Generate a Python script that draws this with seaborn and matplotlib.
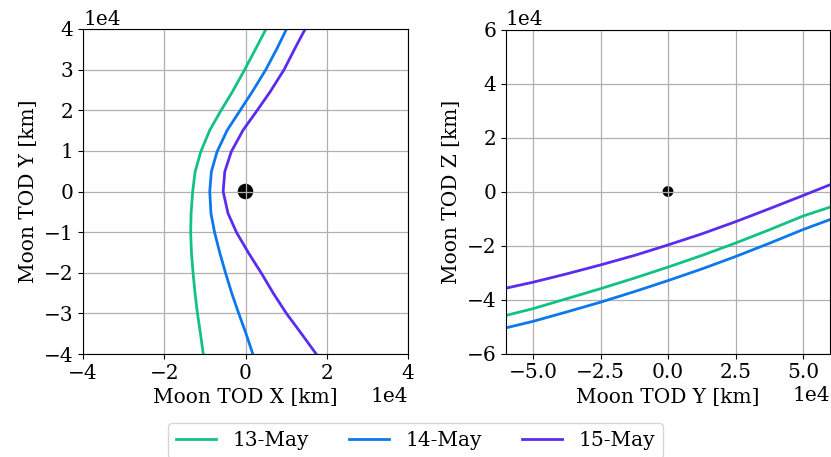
import numpy as np
import pandas as pd
import matplotlib
matplotlib.use("Agg")
import matplotlib.pyplot as plt
from matplotlib.patches import Circle
from matplotlib.lines import Line2D
import seaborn as sns

# ---------------- data (km) ----------------
dates = ["13-May", "14-May", "15-May"]
colors = ["#12c283", "#0b78ee", "#5b2cee"]
moon_radius = 1737.4

# Left panel: Moon TOD X vs Y
left_y = [40000, 35300, 30000, 24600, 20000, 15100, 9800, 4900, 0,
          -5400, -10100, -15200, -20100, -25300, -30200, -34900, -40000]
left_x_13 = [5050, 2600, -200, -3200, -6000, -8800, -11000, -12400, -13000,
             -13400, -13500, -13300, -12900, -12400, -11800, -11100, -10400]
left_x_14 = [10100, 7800, 5000, 1700, -1300, -4500, -7000, -8400, -8800,
             -8500, -7600, -6300, -4900, -3300, -1600, 100, 1800]
left_x_15 = [14700, 12200, 9500, 6100, 2900, -600, -3500, -5100, -5500,
             -4300, -2200, 800, 3900, 7000, 10200, 13700, 17400]

# Right panel: Moon TOD Y vs Z
right_y = [-60000, -50000, -37500, -25000, -12500, 0, 12500, 25000, 37500, 50000, 60000]
right_z_13 = [-45900, -43400, -39700, -36000, -32100, -28000, -23700, -19100, -14200, -9100, -5800]
right_z_14 = [-50500, -48100, -44600, -41000, -37100, -33000, -28700, -24100, -19200, -14100, -10400]
right_z_15 = [-35800, -33600, -30500, -27200, -23700, -19800, -15700, -11200, -6400, -1500, 2500]

left_df = pd.concat([
    pd.DataFrame({"x": left_x_13, "y": left_y, "date": dates[0]}),
    pd.DataFrame({"x": left_x_14, "y": left_y, "date": dates[1]}),
    pd.DataFrame({"x": left_x_15, "y": left_y, "date": dates[2]}),
], ignore_index=True)
right_df = pd.concat([
    pd.DataFrame({"y": right_y, "z": right_z_13, "date": dates[0]}),
    pd.DataFrame({"y": right_y, "z": right_z_14, "date": dates[1]}),
    pd.DataFrame({"y": right_y, "z": right_z_15, "date": dates[2]}),
], ignore_index=True)

plt.rcParams["font.family"] = ["DejaVu Serif"]
plt.rcParams["font.size"] = 14.5
plt.rcParams["axes.axisbelow"] = "line"

W, H = 831, 457
fig = plt.figure(figsize=(W / 100, H / 100), dpi=100)
ax1 = fig.add_axes([83 / W, (H - 354) / H, 325 / W, 325 / H])
ax2 = fig.add_axes([506 / W, (H - 354) / H, 324 / W, 325 / H])

palette = dict(zip(dates, colors))

sns.lineplot(data=left_df, x="x", y="y", hue="date", palette=palette, sort=False,
             estimator=None, units="date", lw=2.0, legend=False, ax=ax1)
sns.lineplot(data=right_df, x="y", y="z", hue="date", palette=palette, sort=False,
             estimator=None, units="date", lw=2.0, legend=False, ax=ax2)
for ax in (ax1, ax2):
    for ln in ax.get_lines():
        ln.set_solid_joinstyle("round")

for ax, lim in ((ax1, 40000), (ax2, 60000)):
    ax.add_patch(Circle((0, 0), moon_radius, color="black", zorder=1))
    ax.set_xlim(-lim, lim)
    ax.set_ylim(-lim, lim)
    ax.set_aspect("equal", adjustable="box")
    ax.grid(True, color="#b0b0b0", lw=0.9)
    ax.ticklabel_format(style="sci", axis="both", scilimits=(0, 0), useMathText=False)

ax1.set_xticks([-40000, -20000, 0, 20000, 40000])
ax1.set_yticks(np.arange(-40000, 40001, 10000))
ax2.set_xticks([-50000, -25000, 0, 25000, 50000])
ax2.set_yticks(np.arange(-60000, 60001, 20000))

ax1.set_xlabel("Moon TOD X [km]")
ax1.set_ylabel("Moon TOD Y [km]")
ax2.set_xlabel("Moon TOD Y [km]")
ax2.set_ylabel("Moon TOD Z [km]")

handles = [Line2D([], [], color=c, lw=2.0) for c in colors]
fig.legend(handles, dates, loc="lower center", ncol=3, bbox_to_anchor=(0.5, -0.025),
           columnspacing=2.0)

fig.savefig("out.png", dpi=100)
